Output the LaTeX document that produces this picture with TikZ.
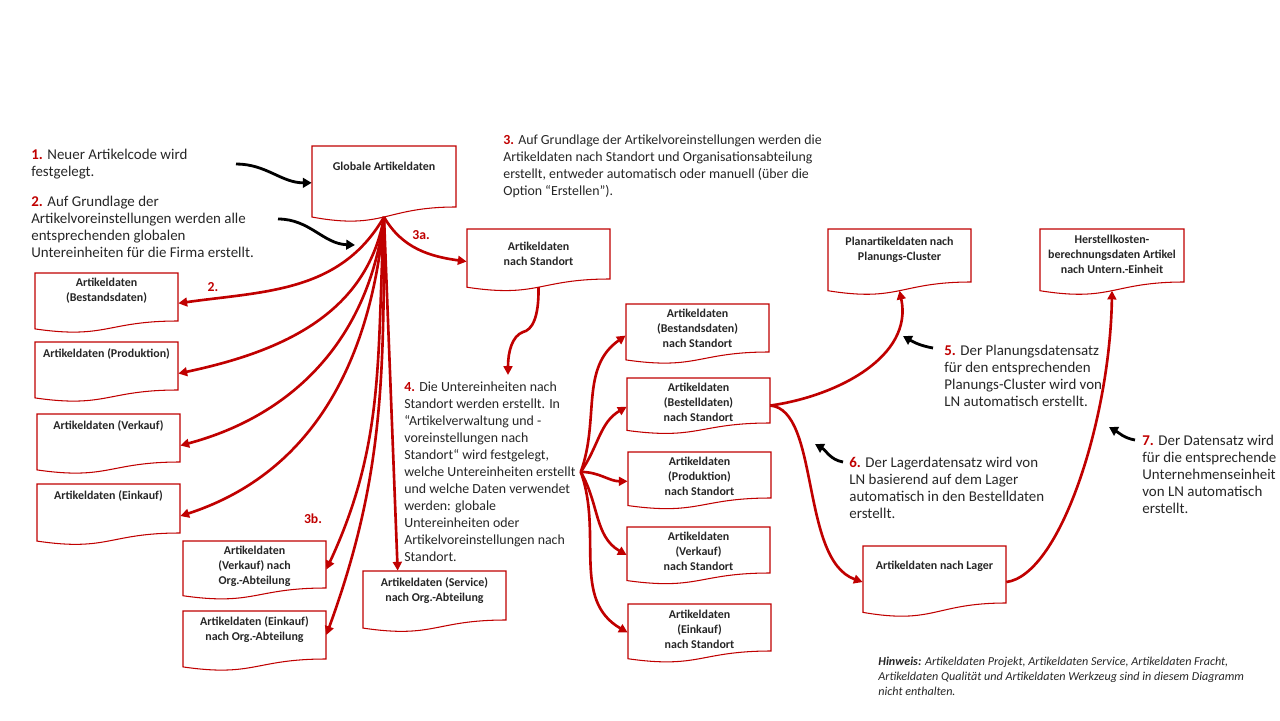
\documentclass[tikz,border=0pt]{standalone}
\usepackage{fontspec}
\setmainfont{Carlito}
\usetikzlibrary{arrows.meta,fit}

\definecolor{lnred}{RGB}{192,0,0}
\definecolor{lntext}{RGB}{38,38,38}

\newcommand{\stepno}[1]{\textcolor{lnred}{\textbf{#1}}}
% document box: name, x1, y1, x2, y2 (right bottom), label top, label
\newcommand{\artdoc}[7]{%
  \draw[docline] (#2,#3) -- (#4,#3) -- (#4,#5)
    .. controls ({(#2+#4)/2},#5) and ({(#2+#4)/2},{#3+1.3815*(#5-#3)})
    .. (#2,{#3+1.1646*(#5-#3)}) -- cycle;
  \node[docarea, fit={(#2,#3) (#4,#5)}] (#1) {};
  \coordinate (#1-b) at ({(#2+#4)/2},{(4*#5+3*(#3+1.3815*(#5-#3))+#3+1.1646*(#5-#3))/8});
  \node[doclabel] (#1-t) at ({(#2+#4)/2},#6) {#7};
}

\begin{document}
\begin{tikzpicture}[x=0.02cm, y=-0.02cm,
  docline/.style={draw=lnred, line width=0.6pt, fill=white},
  docarea/.style={inner sep=0pt, draw=none},
  doclabel/.style={anchor=north, align=center, inner sep=0pt, text=lntext,
    font=\bfseries\fontsize{6.8}{8.5}\selectfont},
  note/.style={anchor=north west, align=left, inner sep=0pt, text=lntext,
    font=\fontsize{8.5}{9.64}\selectfont},
  smallnote/.style={note, font=\fontsize{7.9}{9.64}\selectfont},
  tag/.style={text=lnred, font=\bfseries\fontsize{7.8}{9}\selectfont, inner sep=0pt},
  flow/.style={draw=lnred, line width=1.5pt, -{Triangle[length=5pt,width=5pt]}},
  hint/.style={draw=black, line width=1.6pt, -{Triangle[length=5pt,width=5.5pt]}}]
  \useasboundingbox (0,0) rectangle (1280,720);

  % document boxes
  \artdoc{glob}{312}{146}{456}{207}{162}{Globale Artikeldaten}
  \artdoc{stand}{467}{229}{610}{279}{242}{Artikeldaten\\nach Standort}
  \artdoc{lb}{35}{273}{178}{321}{278}{Artikeldaten\\(Bestandsdaten)}
  \artdoc{lp}{35}{342}{178}{390}{348}{Artikeldaten (Produktion)}
  \artdoc{lv}{37}{414}{180}{462}{420}{Artikeldaten (Verkauf)}
  \artdoc{le}{37}{484}{180}{533}{490}{Artikeldaten (Einkauf)}
  \artdoc{ov}{183}{541}{326}{588}{546}{Artikeldaten\\(Verkauf) nach\\Org.-Abteilung}
  \artdoc{oe}{183}{611}{326}{659}{616}{Artikeldaten (Einkauf)\\nach Org.-Abteilung}
  \artdoc{os}{363}{571}{506}{620}{577}{Artikeldaten (Service)\\nach Org.-Abteilung}
  \artdoc{sb}{626}{304}{769}{352}{309}{Artikeldaten\\(Bestandsdaten)\\nach Standort}
  \artdoc{sbe}{627}{378}{770}{423}{383}{Artikeldaten\\(Bestelldaten)\\nach Standort}
  \artdoc{sp}{628}{452}{771}{498}{457}{Artikeldaten\\(Produktion)\\nach Standort}
  \artdoc{sv}{627}{527}{770}{573}{532}{Artikeldaten\\(Verkauf)\\nach Standort}
  \artdoc{se}{628}{604}{771}{651}{610}{Artikeldaten\\(Einkauf)\\nach Standort}
  \artdoc{plan}{828}{229}{971}{282}{237}{Planartikeldaten nach\\Planungs-Cluster}
  \artdoc{herst}{1040}{229}{1184}{282}{235}{Herstellkosten-\\berechnungsdaten Artikel\\nach Untern.-Einheit}
  \artdoc{lager}{863}{546}{1006}{603}{561}{Artikeldaten nach Lager}

  % texts
  \node[note] (t1) at (31,149) {\stepno{1.} Neuer Artikelcode wird\\festgelegt.};
  \node[note] (t2) at (31,196) {\stepno{2.} Auf Grundlage der\\Artikelvoreinstellungen werden alle\\entsprechenden globalen\\Untereinheiten für die Firma erstellt.};
  \node[smallnote] (t3) at (503,135) {\stepno{3.} Auf Grundlage der Artikelvoreinstellungen werden die\\Artikeldaten nach Standort und Organisationsabteilung\\erstellt, entweder automatisch oder manuell (über die\\Option “Erstellen”).};
  \node[smallnote] (t4) at (404,382) {\stepno{4.} Die Untereinheiten nach\\Standort werden erstellt. In\\“Artikelverwaltung und -\\voreinstellungen nach\\Standort“ wird festgelegt,\\welche Untereinheiten erstellt\\und welche Daten verwendet\\werden: globale\\Untereinheiten oder\\Artikelvoreinstellungen nach\\Standort.};
  \node[note] (t5) at (944,345) {\stepno{5.} Der Planungsdatensatz\\für den entsprechenden\\Planungs-Cluster wird von\\LN automatisch erstellt.};
  \node[note] (t6) at (849,457) {\stepno{6.} Der Lagerdatensatz wird von\\LN basierend auf dem Lager\\automatisch in den Bestelldaten\\erstellt.};
  \node[note] (t7) at (1142,435) {\stepno{7.} Der Datensatz wird\\für die entsprechende\\Unternehmenseinheit\\von LN automatisch\\erstellt.};
  \node[note, font=\itshape\fontsize{6.9}{8.5}\selectfont] (hinweis) at (878,657)
    {\textbf{Hinweis:} Artikeldaten Projekt, Artikeldaten Service, Artikeldaten Fracht,\\Artikeldaten Qualität und Artikeldaten Werkzeug sind in diesem Diagramm\\nicht enthalten.};

  \node[tag] (tag2) at (213,287) {2.};
  \node[tag] (tag3a) at (421,235) {3a.};
  \node[tag] (tag3b) at (313,519) {3b.};

  % red flows
  \draw[flow] (glob-b) to[out=-60, in=172] (stand.186);
  \draw[flow] (glob-b) to[out=-120, in=8] (lb.-5);
  \draw[flow] (glob-b) to[out=-100, in=12] (lp.-6);
  \draw[flow] (glob-b) to[out=-97, in=15] (lv.-6);
  \draw[flow] (glob-b) to[out=-95, in=18] (le.-6);
  \draw[flow] (glob-b) to[out=-93, in=65] (ov.-4);
  \draw[flow] (glob-b) to[out=-90, in=70] (oe.east);
  \draw[flow] (glob-b) -- (os.146);

  \coordinate (t4-in) at (508,375);
  \draw[flow] (stand-b) .. controls (539,318) and (532,330) .. (523,332)
    .. controls (512,336) and (508,352) .. (t4-in);

  \coordinate (fan) at ([xshift=0.1cm]t4.east);
  \draw[flow] (fan) to[out=70, in=215] (sb.186);
  \draw[flow] (fan) to[out=55, in=210] (sbe.185);
  \draw[flow] (fan) to[out=0, in=180] (sp.185);
  \draw[flow] (fan) to[out=-60, in=150] (sv.184);
  \draw[flow] (fan) to[out=-70, in=150] (se.184);

  \draw[flow] (sbe.-4) to[out=8, in=-78] (plan-b);
  \draw[flow] (sbe.-4) .. controls (820,410) and (800,560) .. (lager.186);
  \draw[flow] (lager.-6) .. controls (1060,575) and (1110,420) .. (herst-b);

  % black hints
  \coordinate (h1) at (236,164);
  \coordinate (h2) at (278,219);
  \coordinate (h2e) at (355,245);
  \coordinate (h5) at (933,348);
  \coordinate (h5e) at (903,336);
  \coordinate (h6) at (843,462);
  \coordinate (h6e) at (815,444);
  \coordinate (h7) at (1135,440);
  \coordinate (h7e) at (1109,427);
  \draw[hint] (h1) to[out=0, in=180] (glob.185);
  \draw[hint] (h2) to[out=0, in=178] (h2e);
  \draw[hint] (h5) to[out=170, in=-30] (h5e);
  \draw[hint] (h6) to[out=170, in=-30] (h6e);
  \draw[hint] (h7) to[out=170, in=-30] (h7e);
\end{tikzpicture}
\end{document}
